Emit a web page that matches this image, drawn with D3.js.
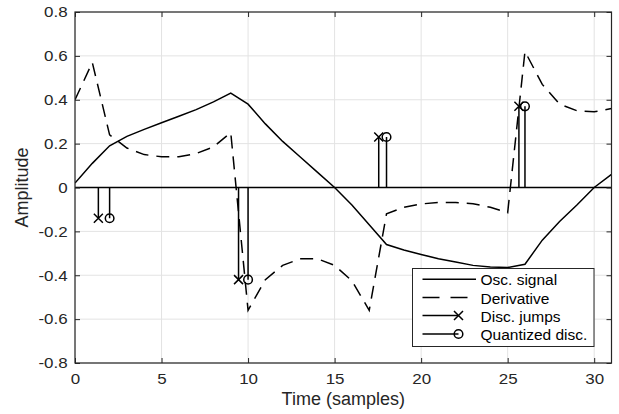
<!DOCTYPE html>
<html>
<head>
<meta charset="utf-8">
<script src="https://cdn.jsdelivr.net/npm/d3@7"></script>
<style>
  body { margin: 0; background: #fff; }
  text { font-family: "Liberation Sans", Arial, sans-serif; }
</style>
</head>
<body>
<div id="wrapper"></div>
<script>
// sample index (time axis)
const sampleTimes = [0,1,2,3,4,5,6,7,8,9,10,11,12,13,14,15,16,17,18,19,20,21,22,23,24,25,26,27,28,29,30,31]
// solid curve
const oscSignal = [0.02,0.11,0.19,0.233,0.265,0.295,0.325,0.355,0.39,0.43,0.38,0.29,0.21,0.14,0.07,0.0,
                   -0.08,-0.17,-0.26,-0.285,-0.305,-0.325,-0.34,-0.355,-0.362,-0.365,-0.35,-0.24,-0.155,-0.08,0.0,0.06]
// dashed curve
const derivative = [0.40,0.57,0.24,0.18,0.15,0.14,0.14,0.155,0.185,0.25,-0.56,-0.42,-0.355,-0.325,-0.325,-0.355,
                    -0.425,-0.56,-0.12,-0.09,-0.075,-0.068,-0.068,-0.074,-0.09,-0.115,0.62,0.47,0.38,0.35,0.345,0.36]
// stems
const jumpTimes = [1.35, 9.45, 17.55, 25.65]
const jumpValues = [-0.14, -0.42, 0.23, 0.37]
const quantTimes = [2, 10, 18, 26]
const quantValues = [-0.14, -0.42, 0.23, 0.37]

const xTicks = [0, 5, 10, 15, 20, 25, 30]
const yTicks = [-0.8, -0.6, -0.4, -0.2, 0, 0.2, 0.4, 0.6, 0.8]
const yTickLabels = ["-0.8", "-0.6", "-0.4", "-0.2", "0", "0.2", "0.4", "0.6", "0.8"]
const legendLabels = ["Osc. signal", "Derivative", "Disc. jumps", "Quantized disc."]

const dimensions = {
    width: 619,
    height: 414,
    margin: { top: 12, right: 7.5, bottom: 51, left: 75 },
}
dimensions.boundedWidth = dimensions.width - dimensions.margin.left - dimensions.margin.right
dimensions.boundedHeight = dimensions.height - dimensions.margin.top - dimensions.margin.bottom

const axisColor = "#262626"
const tickStretch = 1.13   // tick labels look a little wide in the original

const svg = d3.select("#wrapper")
    .append("svg")
        .attr("width", dimensions.width)
        .attr("height", dimensions.height)

const bounds = svg.append("g")
    .attr("transform", `translate(${dimensions.margin.left},${dimensions.margin.top})`)

const xScale = d3.scaleLinear()
    .domain([0, 31])
    .range([0, dimensions.boundedWidth])

const yScale = d3.scaleLinear()
    .domain([-0.8, 0.8])
    .range([dimensions.boundedHeight, 0])

// grid
bounds.append("g")
    .selectAll("line")
    .data(xTicks)
    .join("line")
        .attr("x1", d => xScale(d)).attr("x2", d => xScale(d))
        .attr("y1", 0).attr("y2", dimensions.boundedHeight)
        .attr("stroke", "#e3e3e3")
bounds.append("g")
    .selectAll("line")
    .data(yTicks)
    .join("line")
        .attr("y1", d => yScale(d)).attr("y2", d => yScale(d))
        .attr("x1", 0).attr("x2", dimensions.boundedWidth)
        .attr("stroke", "#e3e3e3")

bounds.append("clipPath").attr("id", "clip")
    .append("rect")
        .attr("width", dimensions.boundedWidth)
        .attr("height", dimensions.boundedHeight)

const plot = bounds.append("g").attr("clip-path", "url(#clip)")

const lineGenerator = (values) => d3.line()
    .x((d, i) => xScale(sampleTimes[i]))
    .y(d => yScale(d))(values)

plot.append("path")
    .attr("d", lineGenerator(oscSignal))
    .attr("fill", "none")
    .attr("stroke", "#000")
    .attr("stroke-width", 1.5)

plot.append("path")
    .attr("d", lineGenerator(derivative))
    .attr("fill", "none")
    .attr("stroke", "#000")
    .attr("stroke-width", 1.5)
    .attr("stroke-dasharray", "13,8")

// stem baseline
plot.append("line")
    .attr("x1", xScale(0)).attr("x2", xScale(31))
    .attr("y1", yScale(0)).attr("y2", yScale(0))
    .attr("stroke", "#000")
    .attr("stroke-width", 1.5)

const stems = (times, values) => plot.append("g")
    .selectAll("line")
    .data(values)
    .join("line")
        .attr("x1", (d, i) => xScale(times[i])).attr("x2", (d, i) => xScale(times[i]))
        .attr("y1", yScale(0)).attr("y2", d => yScale(d))
        .attr("stroke", "#000")
        .attr("stroke-width", 1.5)

stems(jumpTimes, jumpValues)
stems(quantTimes, quantValues)

const xMark = (g, s) => g.append("path")
    .attr("d", `M${-s},${-s}L${s},${s}M${-s},${s}L${s},${-s}`)
    .attr("stroke", "#000").attr("stroke-width", 1.5).attr("fill", "none")
const oMark = (g, r) => g.append("circle")
    .attr("r", r)
    .attr("stroke", "#000").attr("stroke-width", 1.5).attr("fill", "none")

jumpValues.forEach((v, i) => {
    xMark(plot.append("g").attr("transform", `translate(${xScale(jumpTimes[i])},${yScale(v)})`), 4.5)
})
quantValues.forEach((v, i) => {
    oMark(plot.append("g").attr("transform", `translate(${xScale(quantTimes[i])},${yScale(v)})`), 4.3)
})

// axes
const styleAxis = g => {
    g.select(".domain").remove()
    g.selectAll(".tick line").attr("stroke", axisColor)
    g.selectAll("text")
        .attr("fill", axisColor)
        .attr("transform", `scale(${tickStretch},1)`)
        .style("font-size", "15px")
}

bounds.append("g")
    .attr("transform", `translate(0,${dimensions.boundedHeight})`)
    .call(d3.axisBottom(xScale).tickValues(xTicks).tickSizeInner(-5).tickSizeOuter(0).tickPadding(10))
    .call(styleAxis)
bounds.append("g")
    .call(d3.axisTop(xScale).tickValues(xTicks).tickSizeInner(-5).tickSizeOuter(0).tickFormat(""))
    .call(styleAxis)
bounds.append("g")
    .call(d3.axisLeft(yScale).tickValues(yTicks).tickSizeInner(-5).tickSizeOuter(0).tickPadding(6.5)
        .tickFormat((d, i) => yTickLabels[i]))
    .call(styleAxis)
bounds.append("g")
    .attr("transform", `translate(${dimensions.boundedWidth},0)`)
    .call(d3.axisRight(yScale).tickValues(yTicks).tickSizeInner(-5).tickSizeOuter(0).tickFormat(""))
    .call(styleAxis)

bounds.append("rect")
    .attr("width", dimensions.boundedWidth)
    .attr("height", dimensions.boundedHeight)
    .attr("fill", "none")
    .attr("stroke", axisColor)
    .attr("stroke-width", 1.2)

// axis labels
svg.append("text")
    .attr("x", dimensions.margin.left + dimensions.boundedWidth / 2)
    .attr("y", 405)
    .attr("text-anchor", "middle")
    .attr("fill", axisColor)
    .style("font-size", "18px")
    .text("Time (samples)")
svg.append("text")
    .attr("transform", `translate(28,${dimensions.margin.top + dimensions.boundedHeight / 2}) rotate(-90)`)
    .attr("text-anchor", "middle")
    .attr("fill", axisColor)
    .style("font-size", "18px")
    .text("Amplitude")

// legend
const legend = svg.append("g").attr("transform", "translate(412.5,268.5)")
legend.append("rect")
    .attr("width", 181.5).attr("height", 78)
    .attr("fill", "#fff")
    .attr("stroke", axisColor)
    .attr("stroke-width", 1)

const rowY = [10.8, 29, 47, 65.5]
legendLabels.forEach((label, i) => {
    const row = legend.append("g").attr("transform", `translate(0,${rowY[i]})`)
    const lineEnd = i === 0 ? 63.5 : i === 1 ? 56 : 46
    const ln = row.append("line")
        .attr("x1", 10).attr("x2", lineEnd)
        .attr("stroke", "#000").attr("stroke-width", 1.5)
    if (i === 1) ln.attr("stroke-dasharray", "17,11")
    if (i === 2) xMark(row.append("g").attr("transform", "translate(46,0)"), 4.5)
    if (i === 3) oMark(row.append("g").attr("transform", "translate(46,0)"), 4.3)
    row.append("text")
        .attr("x", 68)
        .attr("y", 6)
        .attr("fill", "#000")
        .style("font-size", "15.5px")
        .text(label)
})
</script>
</body>
</html>
